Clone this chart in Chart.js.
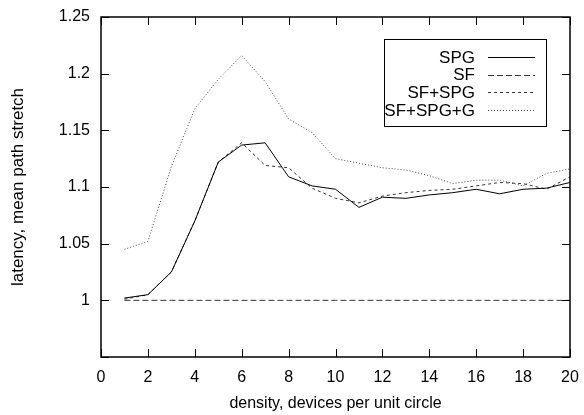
<!DOCTYPE html>
<html>
<head>
<meta charset="utf-8">
<script src="https://cdn.jsdelivr.net/npm/chart.js@4/dist/chart.umd.min.js"></script>
<style>
  html, body { margin: 0; padding: 0; background: #fff; }
  #wrap { width: 584px; height: 415px; }
</style>
</head>
<body>
<div id="wrap"><canvas id="chart" width="584" height="415"></canvas></div>
<script>
// ---- datos ----
const DENSIDAD = [1, 2, 3, 4, 5, 6, 7, 8, 9, 10, 11, 12, 13, 14, 15, 16, 17, 18, 19, 20];
const SPG      = [1.002, 1.005, 1.025, 1.070, 1.122, 1.137, 1.139, 1.109, 1.101, 1.098, 1.082, 1.091, 1.090, 1.093, 1.095, 1.098, 1.094, 1.098, 1.099, 1.104];
const SF       = [1.000, 1.000, 1.000, 1.000, 1.000, 1.000, 1.000, 1.000, 1.000, 1.000, 1.000, 1.000, 1.000, 1.000, 1.000, 1.000, 1.000, 1.000, 1.000, 1.000];
const SF_SPG   = [1.001, 1.005, 1.025, 1.070, 1.122, 1.139, 1.119, 1.117, 1.099, 1.090, 1.086, 1.092, 1.095, 1.097, 1.098, 1.101, 1.104, 1.103, 1.098, 1.109];
const SF_SPG_G = [1.045, 1.052, 1.118, 1.169, 1.195, 1.216, 1.193, 1.160, 1.148, 1.125, 1.121, 1.117, 1.115, 1.110, 1.103, 1.106, 1.106, 1.101, 1.112, 1.116];
const X_TICKS = [0, 2, 4, 6, 8, 10, 12, 14, 16, 18, 20];
const Y_TICKS = [0.95, 1, 1.05, 1.1, 1.15, 1.2, 1.25];

const FUENTE = "'Liberation Sans', Arial, sans-serif";

function puntos(ys) {
    return DENSIDAD.map((x, i) => ({ x, y: ys[i] }));
}

const SERIES = [
    { label: 'SPG',        data: SPG,      color: '#000', dash: [] },
    { label: 'SF',         data: SF,       color: '#333', dash: [6, 3] },
    { label: 'SF+SPG',     data: SF_SPG,   color: '#333', dash: [3, 3] },
    { label: 'SF+SPG+G',   data: SF_SPG_G, color: '#444', dash: [1, 2] },
];

// marco + ticks hacia adentro en los 4 lados (estilo gnuplot)
const marcoPlugin = {
    id: 'marco',
    afterDatasetsDraw(chart) {
        const { ctx, chartArea: a, scales } = chart;
        const len = 8;
        ctx.save();
        ctx.strokeStyle = '#000';
        ctx.lineWidth = 1;
        ctx.setLineDash([]);
        ctx.beginPath();
        X_TICKS.forEach(v => {
            const px = Math.round(scales.x.getPixelForValue(v)) + 0.5;
            ctx.moveTo(px, a.bottom); ctx.lineTo(px, a.bottom - len);
            ctx.moveTo(px, a.top); ctx.lineTo(px, a.top + len);
        });
        Y_TICKS.forEach(v => {
            const py = Math.round(scales.y.getPixelForValue(v)) + 0.5;
            ctx.moveTo(a.left, py); ctx.lineTo(a.left + len, py);
            ctx.moveTo(a.right, py); ctx.lineTo(a.right - len, py);
        });
        ctx.stroke();
        ctx.lineWidth = 1.5;
        ctx.strokeRect(a.left, a.top, a.right - a.left, a.bottom - a.top);
        ctx.restore();
    }
};

// leyenda con el texto a la derecha alineado y la muestra de línea después
const leyendaPlugin = {
    id: 'leyendaGnuplot',
    afterDraw(chart) {
        const { ctx } = chart;
        const caja = { x: 384, y: 39, w: 162, h: 87 };
        ctx.save();
        ctx.strokeStyle = '#000';
        ctx.lineWidth = 1;
        ctx.setLineDash([]);
        ctx.strokeRect(caja.x + 0.5, caja.y + 0.5, caja.w, caja.h);
        ctx.font = `17px ${FUENTE}`;
        ctx.fillStyle = '#000';
        ctx.textAlign = 'right';
        ctx.textBaseline = 'middle';
        chart.data.datasets.forEach((ds, i) => {
            const y = 57 + i * 17.7;
            ctx.fillText(ds.label, 475, y + 1);
            ctx.strokeStyle = ds.borderColor;
            ctx.setLineDash(ds.borderDash);
            ctx.beginPath();
            ctx.moveTo(488, Math.round(y) + 0.5);
            ctx.lineTo(535, Math.round(y) + 0.5);
            ctx.stroke();
        });
        ctx.restore();
    }
};

new Chart(document.getElementById('chart'), {
    type: 'line',
    data: {
        datasets: SERIES.map(s => ({
            label: s.label,
            data: puntos(s.data),
            borderColor: s.color,
            borderDash: s.dash,
            borderWidth: 1,
            pointRadius: 0,
            tension: 0,
            fill: false,
        })),
    },
    options: {
        responsive: false,
        animation: false,
        devicePixelRatio: 1,
        layout: { padding: { top: 17, right: 14, left: 0, bottom: 0 } },
        plugins: {
            legend: { display: false },
            tooltip: { enabled: false },
        },
        scales: {
            x: {
                type: 'linear',
                min: 0,
                max: 20,
                afterBuildTicks: s => { s.ticks = X_TICKS.map(v => ({ value: v })); },
                ticks: {
                    color: '#000',
                    font: { family: FUENTE, size: 16 },
                    padding: 11,
                    maxRotation: 0,
                },
                grid: { drawOnChartArea: false, drawTicks: false },
                border: { display: false },
                title: {
                    display: true,
                    text: 'density, devices per unit circle',
                    color: '#000',
                    font: { family: FUENTE, size: 16 },
                    padding: { top: 0, bottom: 2 },
                },
                afterFit: s => {
                    s.height = 58;
                    // el "20" no debe empujar el área del gráfico
                    s.paddingLeft = 0;
                    s.paddingRight = 0;
                },
            },
            y: {
                min: 0.95,
                max: 1.25,
                afterBuildTicks: s => { s.ticks = Y_TICKS.map(v => ({ value: v })); },
                ticks: {
                    color: '#000',
                    font: { family: FUENTE, size: 16 },
                    padding: 11,
                    callback: v => (Math.abs(v - 0.95) < 1e-6 ? '' : String(Number(v.toFixed(2)))),
                },
                grid: { drawOnChartArea: false, drawTicks: false },
                border: { display: false },
                title: {
                    display: true,
                    text: 'latency, mean path stretch',
                    color: '#000',
                    font: { family: FUENTE, size: 17 },
                    padding: { top: 8, bottom: 0 },
                },
                afterFit: s => {
                    s.width = 101;
                    s.paddingTop = 0;
                    s.paddingBottom = 0;
                },
            },
        },
    },
    plugins: [marcoPlugin, leyendaPlugin],
});
</script>
</body>
</html>
